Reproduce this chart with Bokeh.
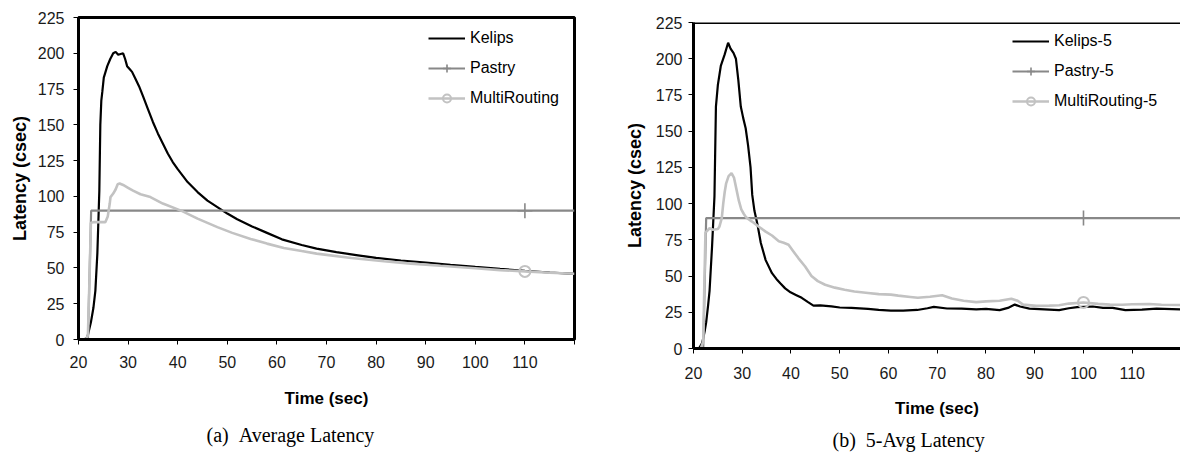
import numpy as np
from bokeh.plotting import figure
from bokeh.models import FixedTicker, Legend, LegendItem, Span, Title, Range1d
from bokeh.layouts import row
from bokeh.embed import file_html
from bokeh.resources import INLINE

# ---------------- (a) Average Latency ----------------
a_kelips_t = [20, 21.0, 21.75, 22.5, 23.0, 23.4, 23.8, 24.2, 24.4, 24.6, 24.8, 25.1, 25.8,
              26.4, 27.0, 27.5, 28.0, 28.5, 29.0, 29.4, 29.8, 30.3, 30.8, 31.5, 32.2, 33.0,
              34.0, 35.0, 36.0, 37.0, 38.0, 39.0, 40.0, 42.0, 44.0, 46.0, 48.0, 50.0, 52.0,
              55.0, 58.0, 61.0, 65.0, 68.0, 72.0, 76.0, 80.0, 85.0, 90.0, 95.0, 100.0,
              105.0, 110.0, 115.0, 120.0]
a_kelips_v = [0, 0, 1, 12, 22, 34, 60, 104, 150, 167, 173, 183, 191,
              196, 200, 201, 199, 199.5, 200, 196, 191, 189, 187, 182, 177, 170,
              161, 152, 144, 137, 130, 124, 119, 110, 103, 97, 92.5, 88, 84,
              79, 74.5, 70, 66, 63.5, 61, 59, 57, 55.2, 53.8, 52.2, 50.7,
              49.3, 48, 46.8, 45.9]

a_pastry_t = [20, 21.9, 22.55, 120]
a_pastry_v = [0, 0, 90, 90]

a_multi_t = [20, 21.5, 21.9, 22.2, 22.5, 23.0, 24.0, 25.4, 25.9, 26.3, 26.45, 27.0, 27.5,
             27.9, 28.3, 29.0, 30.0, 31.0, 32.5, 34.5, 37.0, 40.9, 44.0, 48.0, 51.0, 54.7,
             58.0, 61.4, 65.0, 68.0, 75.0, 81.6, 87.0, 93.0, 100.0, 105.0, 110.0, 115.0,
             120.0]
a_multi_v = [0, 0, 3, 40, 81.5, 82, 82, 82, 86, 95, 99.5, 102, 105,
             108.5, 109, 108, 106, 104, 101.5, 99.5, 95, 89.7, 84.5, 78.5, 74.5, 70.3,
             67, 64, 61.8, 60, 57, 54.7, 53, 51.5, 49.8, 48.5, 47.6, 46.6,
             45.9]

a_pastry_mark_t = [110]
a_pastry_mark_v = [90]
a_multi_mark_t = [110]
a_multi_mark_v = [47.6]

# ---------------- (b) 5-Avg Latency ----------------
b_kelips_t = [20, 21.2, 21.8, 22.3, 22.6, 23.0, 23.3, 23.8, 24.3, 24.6, 25.0, 25.6, 26.4,
              27.1, 27.6, 28.2, 28.7, 29.2, 29.7, 30.2, 30.7, 31.2, 31.7, 32.05, 32.5,
              33.1, 33.8, 34.8, 36.1, 37.0, 37.8, 38.8, 39.9, 41.0, 42.2, 43.5, 44.6,
              46.0, 48.3, 50.0, 52.4, 55.8, 58.0, 60.5, 63.0, 65.9, 68.0, 69.3, 72.0,
              75.0, 78.0, 80.0, 82.8, 84.5, 85.9, 87.0, 88.9, 92.0, 95.0, 97.0, 98.7,
              101.9, 104.0, 106.0, 108.6, 112.0, 115.0, 119.9]
b_kelips_v = [0, 0.5, 4, 12, 18, 30, 40, 70, 105, 167, 182, 195, 203,
              211, 207, 204, 200, 185, 167, 159, 152, 140, 125, 106, 95,
              86, 73, 61, 52, 48, 45, 41.5, 38.8, 37, 35, 32, 29.6,
              29.8, 29.1, 28.3, 28, 27.3, 26.6, 26.1, 26.2, 26.6, 27.8, 28.7, 27.6,
              27.5, 27, 27.3, 26.5, 28, 30.3, 29, 27.5, 27, 26.5, 27.8, 28.6,
              29, 28, 28, 26.5, 26.8, 27.5, 27]

b_pastry_t = [20, 22.0, 22.6, 119.9]
b_pastry_v = [0, 0, 90, 90]

b_multi_t = [20, 21.5, 22.0, 22.2, 22.45, 23.3, 24.0, 25.0, 25.3, 25.8, 26.1, 26.4, 26.7,
             27.2, 27.8, 28.3, 28.8, 29.3, 29.8, 30.3, 30.8, 32.0, 33.4, 34.8, 36.1,
             37.5, 38.5, 39.5, 40.5, 41.5, 42.9, 44.2, 45.5, 47.0, 49.0, 51.0, 53.0,
             55.8, 58.0, 60.5, 62.0, 64.5, 66.0, 68.5, 71.0, 73.0, 75.4, 78.0, 80.0,
             82.8, 85.2, 86.5, 87.6, 90.3, 93.0, 95.0, 97.0, 100.0, 103.0, 105.4, 108.0,
             110.0, 113.5, 116.0, 119.9]
b_multi_v = [0, 0, 5, 40, 80, 83, 82, 82.5, 84, 90, 100, 108, 114,
             119, 121, 118, 110, 102, 96, 93, 90.5, 87.6, 84, 80.7, 78,
             74, 73, 71.6, 67, 62.4, 56.6, 50, 46.5, 44, 42, 40.6, 39.3,
             38.3, 37.5, 37.2, 36.5, 35.6, 35, 35.7, 36.7, 34.5, 33, 32, 32.5,
             33, 34.4, 33, 30.3, 29.4, 29.6, 29.8, 31, 31.8, 30.8, 30.3, 30.2,
             30.5, 30.7, 30.2, 30]

b_pastry_mark_t = [100]
b_pastry_mark_v = [90]
b_multi_mark_t = [100]
b_multi_mark_v = [31.8]

# ---------------- shared axis settings ----------------
y_ticks = [0, 25, 50, 75, 100, 125, 150, 175, 200, 225]
x_ticks = [20, 30, 40, 50, 60, 70, 80, 90, 100, 110, 120]
x_hidden_labels = {120: ""}

KELIPS = "#000000"
PASTRY = "#888888"
MULTI = "#c2c2c2"
SANS = "Liberation Sans"
SERIF = "Liberation Serif"


def panel(series, names, caption, x_end, geom):
    (k_t, k_v, p_t, p_v, m_t, m_v, pm_t, pm_v, mm_t, mm_v) = series
    p = figure(
        width=geom["bl"] + geom["fw"] + geom["br"],
        height=geom["bt"] + geom["fh"] + geom["bb"],
        x_range=Range1d(20, x_end), y_range=Range1d(0, 225),
        min_border_left=geom["bl"], min_border_right=geom["br"],
        min_border_top=geom["bt"], min_border_bottom=geom["bb"],
        output_backend="svg", toolbar_location=None, title=None,
        background_fill_color="white", border_fill_color="white",
        align="start", frame_align=False,
    )
    p.grid.visible = False

    rk = p.line(k_t, k_v, line_color=KELIPS, line_width=2.2)
    rp = p.line(p_t, p_v, line_color=PASTRY, line_width=2.2)
    rpm = p.scatter(pm_t, pm_v, marker="cross", size=15, line_color=PASTRY, line_width=1.6)
    rm = p.line(m_t, m_v, line_color=MULTI, line_width=2.6)
    rmm = p.scatter(mm_t, mm_v, marker="circle", size=11, fill_color=None,
                    line_color=MULTI, line_width=2)

    for ax in (p.xaxis[0], p.yaxis[0]):
        ax.axis_line_color = "black"
        ax.axis_line_width = 3
        ax.major_tick_line_color = "black"
        ax.major_tick_line_width = 1
        ax.major_tick_in = 0
        ax.major_tick_out = 5
        ax.minor_tick_line_color = None
        ax.major_label_text_font = SANS
        ax.major_label_text_font_size = "16px"
        ax.major_label_text_color = "#1a1a1a"
        ax.axis_label_text_font = SANS
        ax.axis_label_text_font_style = "bold"
        ax.axis_label_text_color = "black"

    p.xaxis.ticker = FixedTicker(ticks=x_ticks)
    p.xaxis.major_label_overrides = x_hidden_labels
    p.xaxis.axis_label = "Time (sec)"
    p.xaxis.axis_label_text_font_size = "17px"
    p.xaxis.major_label_standoff = geom["xls"]
    p.xaxis.axis_label_standoff = geom["xas"]

    p.yaxis.ticker = FixedTicker(ticks=y_ticks)
    p.yaxis.axis_label = "Latency (csec)"
    p.yaxis.axis_label_text_font_size = "18px"
    p.yaxis.major_label_standoff = geom["yls"]
    p.yaxis.axis_label_standoff = geom["yas"]

    if geom["outline"]:
        p.outline_line_color = "black"
        p.outline_line_width = 3
    else:
        p.outline_line_color = None
        p.add_layout(Span(location=p.y_range.end, dimension="width",
                          line_color="black", line_width=3))

    legend = Legend(
        items=[
            LegendItem(label=names[0], renderers=[rk]),
            LegendItem(label=names[1], renderers=[rp, rpm]),
            LegendItem(label=names[2], renderers=[rm, rmm]),
        ],
        location=geom["leg"],
        glyph_width=37, glyph_height=20, label_height=20, spacing=10,
        padding=0, margin=0, label_standoff=5,
        border_line_color=None, background_fill_alpha=0,
        label_text_font=SANS, label_text_font_size="16px", label_text_color="black",
    )
    p.add_layout(legend)

    # sub-figure caption below the axis title
    p.add_layout(Title(text=caption, align="left", offset=geom["cap_off"],
                       standoff=geom["cap_so"], text_font=SERIF,
                       text_font_size="20px", text_font_style="normal",
                       text_color="black"), "below")
    return p


geom_a = dict(fw=496, fh=322, bl=78, br=26, bt=17, bb=117,
              xls=11, xas=18, yls=9, yas=5, outline=True,
              leg=(350, 231), cap_off=128, cap_so=22)
geom_b = dict(fw=487, fh=327, bl=93, br=0, bt=22, bb=107,
              xls=13, xas=17, yls=6, yas=8, outline=False,
              leg=(319, 237), cap_off=139, cap_so=12)

pa = panel((a_kelips_t, a_kelips_v, a_pastry_t, a_pastry_v, a_multi_t, a_multi_v,
            a_pastry_mark_t, a_pastry_mark_v, a_multi_mark_t, a_multi_mark_v),
           ("Kelips", "Pastry", "MultiRouting"),
           "(a)\u2002Average Latency", 120, geom_a)
pb = panel((b_kelips_t, b_kelips_v, b_pastry_t, b_pastry_v, b_multi_t, b_multi_v,
            b_pastry_mark_t, b_pastry_mark_v, b_multi_mark_t, b_multi_mark_v),
           ("Kelips-5", "Pastry-5", "MultiRouting-5"),
           "(b)\u20025-Avg Latency", 119.9, geom_b)

layout = row(pa, pb)
open("out.html", "w").write(file_html(layout, INLINE))
